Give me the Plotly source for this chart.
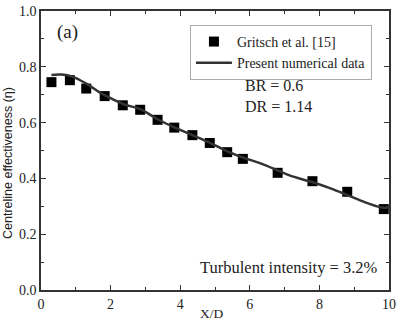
import plotly.graph_objects as go

exp_x = [0.3, 0.83, 1.3, 1.83, 2.35, 2.85, 3.35, 3.83, 4.35, 4.85, 5.35, 5.8, 6.8, 7.8, 8.8, 9.85]
exp_y = [0.745, 0.752, 0.722, 0.695, 0.662, 0.646, 0.61, 0.582, 0.555, 0.527, 0.494, 0.47, 0.42, 0.39, 0.352, 0.29]

num_x = [0.3, 0.6, 0.9, 1.3, 1.8, 2.4, 2.85, 3.35, 3.83, 4.35, 4.9, 5.35, 5.8, 6.29, 6.82, 7.16, 7.81, 8.3, 8.81, 9.3, 9.6, 9.84, 10.0]
num_y = [0.771, 0.772, 0.765, 0.74, 0.70, 0.665, 0.648, 0.612, 0.583, 0.555, 0.525, 0.497, 0.475, 0.455, 0.428, 0.41, 0.386, 0.365, 0.34, 0.315, 0.302, 0.295, 0.297]

FONT = "Liberation Serif"
SANS = "Liberation Sans"

fig = go.Figure()
fig.add_trace(go.Scatter(x=exp_x, y=exp_y, mode="markers", name="Gritsch et al. [15]",
                         marker=dict(symbol="square", size=10, color="black")))
fig.add_trace(go.Scatter(x=num_x, y=num_y, mode="lines", name="Present numerical data",
                         line=dict(color="#333333", width=2.5, shape="spline")))

axis_common = dict(showline=True, linecolor="#333333", linewidth=1.5, mirror="ticks",
                   ticks="inside", ticklen=5, tickwidth=1.2, tickcolor="#333333",
                   showgrid=False, zeroline=False, automargin=False,
                   tickfont=dict(family=FONT, size=14, color="#222222"))

fig.update_layout(
    width=397, height=329,
    margin=dict(l=41, r=8, t=11, b=39),
    plot_bgcolor="white", paper_bgcolor="white",
    font=dict(family=FONT, color="#222222"),
    xaxis=dict(range=[0, 10], tickvals=[0, 2, 4, 6, 8, 10],
               minor=dict(tickvals=[1, 3, 5, 7, 9], ticks="inside", ticklen=3, tickcolor="#333333"),
               **axis_common),
    yaxis=dict(range=[0, 1.0], tickvals=[0, 0.2, 0.4, 0.6, 0.8, 1.0], tickformat=".1f",
               minor=dict(tickvals=[0.1, 0.3, 0.5, 0.7, 0.9], ticks="inside", ticklen=3, tickcolor="#333333"),
               **axis_common),
    legend=dict(x=0.428, y=0.95, xanchor="left", yanchor="top",
                bordercolor="#aaaaaa", borderwidth=1, bgcolor="white",
                font=dict(family=FONT, size=14), tracegroupgap=0, itemwidth=36),
    showlegend=True,
)

fig.add_annotation(x=(8 - 41) / 348, y=(290 - 163) / 279, xref="paper", yref="paper",
                   text="Centreline effectiveness (η)", textangle=-90, showarrow=False,
                   xanchor="center", yanchor="middle", font=dict(family=SANS, size=12.5))
fig.add_annotation(x=(212 - 41) / 348, y=(290 - 313) / 279, xref="paper", yref="paper",
                   text="X/D", showarrow=False, xanchor="center", yanchor="middle",
                   font=dict(family=FONT, size=13.5))
fig.add_annotation(x=0.04, y=0.925, xref="paper", yref="paper", text="(a)", showarrow=False,
                   xanchor="left", yanchor="middle", font=dict(family=FONT, size=19))
fig.add_annotation(x=0.58, y=0.694, xref="paper", yref="paper", text="BR = 0.6<br>DR = 1.14",
                   showarrow=False, xanchor="left", yanchor="middle", align="left",
                   font=dict(family=FONT, size=16))
fig.add_annotation(x=0.975, y=0.08, xref="paper", yref="paper", text="Turbulent intensity = 3.2%",
                   showarrow=False, xanchor="right", yanchor="middle",
                   font=dict(family=FONT, size=16.5))

fig.write_html("out.html")
